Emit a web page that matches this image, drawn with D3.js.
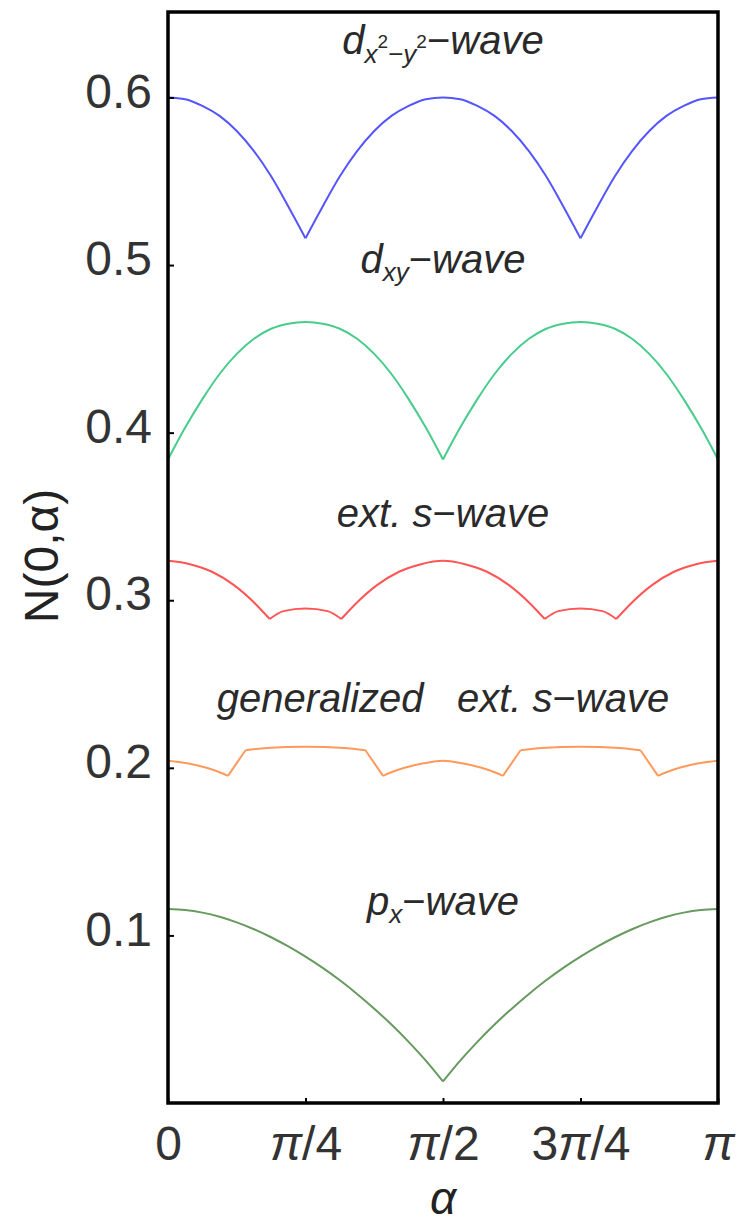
<!DOCTYPE html>
<html>
<head>
<meta charset="utf-8">
<script src="https://cdn.jsdelivr.net/npm/d3@7"></script>
<style>
  body { margin: 0; background: #fff; }
  text { font-family: "Liberation Sans", Arial, sans-serif; }
</style>
</head>
<body>
<div id="chart-area"></div>
<script>
/*
* N(0, alpha) for several pairing symmetries
*/

// alpha is stored in units of pi
const alphaGrid = [0, 0.03125, 0.0625, 0.09375, 0.125, 0.15625, 0.1875, 0.21875, 0.25,
	0.28125, 0.3125, 0.34375, 0.375, 0.40625, 0.4375, 0.46875, 0.5,
	0.53125, 0.5625, 0.59375, 0.625, 0.65625, 0.6875, 0.71875, 0.75,
	0.78125, 0.8125, 0.84375, 0.875, 0.90625, 0.9375, 0.96875, 1]

// d_{x2-y2}
const dx2y2N = [0.600, 0.599, 0.595, 0.589, 0.580, 0.568, 0.553, 0.535, 0.516,
	0.535, 0.553, 0.568, 0.580, 0.589, 0.595, 0.599, 0.600,
	0.599, 0.595, 0.589, 0.580, 0.568, 0.553, 0.535, 0.516,
	0.535, 0.553, 0.568, 0.580, 0.589, 0.595, 0.599, 0.600]
const dx2y2Cusps = [0.25, 0.75]

// d_xy
const dxyN = [0.384, 0.403, 0.420, 0.435, 0.447, 0.456, 0.462, 0.465, 0.466,
	0.465, 0.462, 0.456, 0.447, 0.435, 0.420, 0.403, 0.384,
	0.403, 0.420, 0.435, 0.447, 0.456, 0.462, 0.465, 0.466,
	0.465, 0.462, 0.456, 0.447, 0.435, 0.420, 0.403, 0.384]
const dxyCusps = [0.5]

// ext. s
const extSAlpha = [0, 0.04, 0.08, 0.12, 0.16, 0.185, 0.21, 0.25, 0.29, 0.315, 0.34, 0.38, 0.42, 0.46, 0.5,
	0.54, 0.58, 0.62, 0.66, 0.685, 0.71, 0.75, 0.79, 0.815, 0.84, 0.88, 0.92, 0.96, 1]
const extSN = [0.3235, 0.3215, 0.3170, 0.3090, 0.2975, 0.2888, 0.2935, 0.2950, 0.2935, 0.2888, 0.2975, 0.3090, 0.3170, 0.3215, 0.3235,
	0.3215, 0.3170, 0.3090, 0.2975, 0.2888, 0.2935, 0.2950, 0.2935, 0.2888, 0.2975, 0.3090, 0.3170, 0.3215, 0.3235]
const extSCusps = [0.185, 0.315, 0.685, 0.815]

// generalized ext. s
const genSAlpha = [0, 0.035, 0.07, 0.095, 0.109, 0.141, 0.18, 0.215, 0.25, 0.285, 0.32, 0.359, 0.391, 0.405, 0.43, 0.465, 0.5,
	0.535, 0.57, 0.595, 0.609, 0.641, 0.68, 0.715, 0.75, 0.785, 0.82, 0.859, 0.891, 0.905, 0.93, 0.965, 1]
const genSN = [0.2042, 0.2027, 0.2000, 0.1972, 0.1952, 0.2105, 0.2118, 0.2124, 0.2126, 0.2124, 0.2118, 0.2105, 0.1952, 0.1972, 0.2000, 0.2027, 0.2042,
	0.2027, 0.2000, 0.1972, 0.1952, 0.2105, 0.2118, 0.2124, 0.2126, 0.2124, 0.2118, 0.2105, 0.1952, 0.1972, 0.2000, 0.2027, 0.2042]
const genSCusps = [0.109, 0.141, 0.359, 0.391, 0.609, 0.641, 0.859, 0.891]

// p_x
const pxN = [0.1158, 0.1152, 0.1136, 0.1111, 0.1078, 0.1037, 0.0989, 0.0934, 0.0873,
	0.0806, 0.0732, 0.0651, 0.0563, 0.0468, 0.0365, 0.0253, 0.0129,
	0.0253, 0.0365, 0.0468, 0.0563, 0.0651, 0.0732, 0.0806, 0.0873,
	0.0934, 0.0989, 0.1037, 0.1078, 0.1111, 0.1136, 0.1152, 0.1158]
const pxCusps = [0.5]

// axes
const alphaTickValues = [0, 0.25, 0.5, 0.75, 1]
const alphaTickLabels = [["", "0", ""], ["π", "/4", ""], ["π", "/2", ""], ["3", "π", "/4"], ["π", "", ""]]
const nTickValues = [0.1, 0.2, 0.3, 0.4, 0.5, 0.6]

// curve labels, anchored at alpha = pi/2
const labelN = [0.626, 0.4953, 0.3437, 0.2333, 0.1122]

const margin = { left:168, right:20, top:12, bottom:120 }
const width = 738 - margin.left - margin.right,
	height = 1223 - margin.top - margin.bottom

const svg = d3.select("#chart-area")
	.append("svg")
		.attr("width", 738)
		.attr("height", 1223)

const g = svg.append("g")
	.attr("transform", `translate(${margin.left}, ${margin.top})`)

const x = d3.scaleLinear()
	.domain([0, 1])
	.range([0, width])

const y = d3.scaleLinear()
	.domain([0, 0.651])
	.range([height, 0])

g.append("clipPath")
	.attr("id", "frame-clip")
	.append("rect")
		.attr("width", width)
		.attr("height", height)

// break a series into pieces at the kinks so the smoothing keeps them sharp
function pieces(xs, ys, cusps){
	let out = []
	let cur = []
	xs.forEach((a, k) => {
		cur.push([a, ys[k]])
		if (cusps.some(c => Math.abs(c - a) < 1e-9) && cur.length > 1){
			out.push(cur)
			cur = [[a, ys[k]]]
		}
	})
	if (cur.length > 1) out.push(cur)
	return out
}

const line = d3.line()
	.x(d => x(d[0]))
	.y(d => y(d[1]))
	.curve(d3.curveMonotoneX)

const series = [
	{ xs: alphaGrid, ys: dx2y2N, cusps: dx2y2Cusps, color: "#5555ff" },
	{ xs: alphaGrid, ys: dxyN, cusps: dxyCusps, color: "#48cc8c" },
	{ xs: extSAlpha, ys: extSN, cusps: extSCusps, color: "#ff5555" },
	{ xs: genSAlpha, ys: genSN, cusps: genSCusps, color: "#ff9a5c" },
	{ xs: alphaGrid, ys: pxN, cusps: pxCusps, color: "#669a5e" }
]

const curves = g.append("g").attr("clip-path", "url(#frame-clip)")
series.forEach(s => {
	pieces(s.xs, s.ys, s.cusps).forEach(p => {
		curves.append("path")
			.attr("d", line(p))
			.attr("fill", "none")
			.attr("stroke", s.color)
			.attr("stroke-width", 2)
			.attr("stroke-linejoin", "round")
	})
})

// Y axis
const yAxisCall = d3.axisLeft(y)
	.tickValues(nTickValues)
	.tickSizeInner(-6)
	.tickSizeOuter(0)
	.tickPadding(16)
	.tickFormat(d3.format(".1f"))

const yAxisGroup = g.append("g").call(yAxisCall)
yAxisGroup.select(".domain").remove()
yAxisGroup.selectAll("line").attr("stroke", "#000").attr("stroke-width", 2)
yAxisGroup.selectAll("text")
	.attr("font-size", "48px")
	.attr("fill", "#333")
	.attr("dy", "0.2em")

// X axis
const xAxisCall = d3.axisBottom(x)
	.tickValues(alphaTickValues)
	.tickSizeInner(-5)
	.tickSizeOuter(0)
	.tickPadding(23)
	.tickFormat("")

const xAxisGroup = g.append("g")
	.attr("transform", `translate(0, ${height})`)
	.call(xAxisCall)
xAxisGroup.select(".domain").remove()
xAxisGroup.selectAll("line").attr("stroke", "#000").attr("stroke-width", 2)
xAxisGroup.selectAll("text")
	.attr("font-size", "48px")
	.attr("fill", "#333")
	.each(function(d, i){
		const parts = alphaTickLabels[i]
		const t = d3.select(this)
		parts.forEach(p => {
			if (!p) return
			t.append("tspan")
				.attr("font-style", p === "π" ? "italic" : "normal")
				.text(p)
		})
	})

// frame
g.append("rect")
	.attr("width", width)
	.attr("height", height)
	.attr("fill", "none")
	.attr("stroke", "#000")
	.attr("stroke-width", 3.5)

// axis titles
svg.append("text")
	.attr("transform", `translate(58, 556) rotate(-90)`)
	.attr("text-anchor", "middle")
	.attr("font-size", "48px")
	.attr("fill", "#222")
	.text("N(0,α)")

g.append("text")
	.attr("x", x(0.5))
	.attr("y", height + 111)
	.attr("text-anchor", "middle")
	.attr("font-size", "46px")
	.attr("font-style", "italic")
	.attr("fill", "#222")
	.text("α")

// curve labels
const labels = g.append("g")
	.attr("font-size", "40px")
	.attr("font-style", "italic")
	.attr("fill", "#2a2a2a")
	.attr("text-anchor", "middle")

let lab = labels.append("text").attr("x", x(0.5)).attr("y", y(labelN[0]))
lab.append("tspan").text("d")
lab.append("tspan").attr("font-size", "26px").attr("dy", 9).text("x")
lab.append("tspan").attr("font-size", "19px").attr("font-style", "normal").attr("dy", -15).text("2")
lab.append("tspan").attr("font-size", "26px").attr("font-style", "normal").attr("dy", 15).text("−")
lab.append("tspan").attr("font-size", "26px").text("y")
lab.append("tspan").attr("font-size", "19px").attr("font-style", "normal").attr("dy", -15).text("2")
lab.append("tspan").attr("font-style", "normal").attr("dy", 6).text("−")
lab.append("tspan").text("wave")

lab = labels.append("text").attr("x", x(0.5)).attr("y", y(labelN[1]))
lab.append("tspan").text("d")
lab.append("tspan").attr("font-size", "26px").attr("dy", 8).text("xy")
lab.append("tspan").attr("font-style", "normal").attr("dy", -8).text("−")
lab.append("tspan").text("wave")

lab = labels.append("text").attr("x", x(0.5)).attr("y", y(labelN[2]))
lab.append("tspan").text("ext. s")
lab.append("tspan").attr("font-style", "normal").text("−")
lab.append("tspan").text("wave")

lab = labels.append("text").attr("x", x(0.5)).attr("y", y(labelN[3])).style("white-space", "pre")
lab.append("tspan").text("generalized   ext. s")
lab.append("tspan").attr("font-style", "normal").text("−")
lab.append("tspan").text("wave")

lab = labels.append("text").attr("x", x(0.5)).attr("y", y(labelN[4]))
lab.append("tspan").text("p")
lab.append("tspan").attr("font-size", "26px").attr("dy", 8).text("x")
lab.append("tspan").attr("font-style", "normal").attr("dy", -8).text("−")
lab.append("tspan").text("wave")
</script>
</body>
</html>
